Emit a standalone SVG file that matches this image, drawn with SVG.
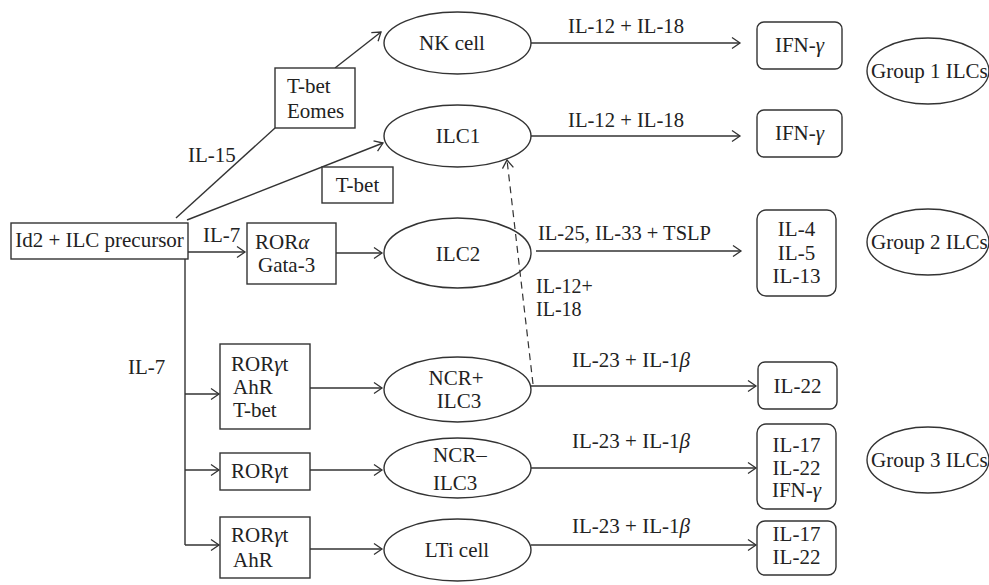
<svg xmlns="http://www.w3.org/2000/svg" width="989" height="585" viewBox="0 0 989 585">
<defs>
<marker id="arr" markerUnits="userSpaceOnUse" markerWidth="12" markerHeight="14" refX="9" refY="6" orient="auto" viewBox="0 0 12 12">
<path d="M1,0.5 L9,6 L1,11.5" fill="none" stroke="#333" stroke-width="1.3"/>
</marker>
</defs>
<style>
text{font-family:"Liberation Serif","Times New Roman",serif;font-size:21px;fill:#222}
.c{text-anchor:middle}
.b{fill:#fff;stroke:#333;stroke-width:1.4}
.e{fill:none;stroke:#333;stroke-width:1.4}
.l{fill:none;stroke:#333;stroke-width:1.4}
.a{fill:none;stroke:#333;stroke-width:1.4;marker-end:url(#arr)}
.d{fill:none;stroke:#333;stroke-width:1.2;stroke-dasharray:7,5;marker-end:url(#arr)}
.s{font-size:20px}
</style>
<rect width="989" height="585" fill="#fff"/>
<g id="connectors">
<line class="l" x1="176" y1="218" x2="275" y2="128"/>
<line class="a" x1="335" y1="68" x2="381" y2="32"/>
<line class="a" x1="187" y1="220" x2="383" y2="143"/>
<line class="a" x1="188" y1="252" x2="245" y2="252"/>
<line class="a" x1="336" y1="253" x2="382" y2="253"/>
<line class="l" x1="185" y1="259" x2="185" y2="545"/>
<line class="a" x1="185" y1="394" x2="219" y2="394"/>
<line class="a" x1="185" y1="470" x2="219" y2="470"/>
<line class="a" x1="185" y1="545" x2="219" y2="545"/>
<line class="a" x1="310" y1="388" x2="382" y2="388"/>
<line class="a" x1="310" y1="470" x2="382" y2="470"/>
<line class="a" x1="310" y1="549" x2="382" y2="549"/>
<line class="a" x1="531" y1="43" x2="740" y2="43"/>
<line class="a" x1="531" y1="136" x2="740" y2="136"/>
<line class="a" x1="536" y1="251" x2="741" y2="251"/>
<line class="a" x1="531" y1="386" x2="756" y2="386"/>
<line class="a" x1="531" y1="468" x2="756" y2="468"/>
<line class="a" x1="531" y1="545" x2="756" y2="545"/>
<line class="d" x1="533" y1="384" x2="507" y2="160"/>
<text x="188" y="162">IL-15</text>
<text x="203" y="242">IL-7</text>
<text x="128" y="374">IL-7</text>
<text class="c" x="626" y="33" textLength="116" lengthAdjust="spacingAndGlyphs">IL-12 + IL-18</text>
<text class="c" x="626" y="127" textLength="116" lengthAdjust="spacingAndGlyphs">IL-12 + IL-18</text>
<text x="538" y="240" textLength="173" lengthAdjust="spacingAndGlyphs">IL-25, IL-33 + TSLP</text>
<text class="s" x="536" y="293">IL-12+</text>
<text class="s" x="536" y="316">IL-18</text>
<text x="572" y="367" textLength="118" lengthAdjust="spacingAndGlyphs">IL-23 + IL-1<tspan font-style="italic">β</tspan></text>
<text x="572" y="448" textLength="118" lengthAdjust="spacingAndGlyphs">IL-23 + IL-1<tspan font-style="italic">β</tspan></text>
<text x="572" y="533" textLength="118" lengthAdjust="spacingAndGlyphs">IL-23 + IL-1<tspan font-style="italic">β</tspan></text>
</g>
<g id="precursor">
<rect class="b" x="11" y="223" width="177" height="36"/>
<text class="c" x="99.5" y="247">Id2 + ILC precursor</text>
</g>
<g id="tbet-eomes">
<rect class="b" x="275" y="68" width="80" height="60"/>
<text x="287" y="93">T-bet</text>
<text x="287" y="118">Eomes</text>
</g>
<g id="tbet">
<rect class="b" x="322" y="167" width="71" height="36"/>
<text class="c" x="357.5" y="192">T-bet</text>
</g>
<g id="rora">
<rect class="b" x="247" y="223" width="89" height="61"/>
<text x="255" y="249">ROR<tspan font-style="italic">α</tspan></text>
<text x="258" y="272">Gata-3</text>
</g>
<g id="rorgt-ahr-tbet">
<rect class="b" x="220" y="344" width="90" height="85"/>
<text x="231" y="371">ROR<tspan font-style="italic">γ</tspan>t</text>
<text x="233" y="394">AhR</text>
<text x="233" y="417">T-bet</text>
</g>
<g id="rorgt">
<rect class="b" x="220" y="453" width="90" height="37"/>
<text x="231" y="478">ROR<tspan font-style="italic">γ</tspan>t</text>
</g>
<g id="rorgt-ahr">
<rect class="b" x="220" y="517" width="90" height="61"/>
<text x="231" y="542">ROR<tspan font-style="italic">γ</tspan>t</text>
<text x="233" y="567">AhR</text>
</g>
<g id="nk">
<ellipse class="e" cx="457.5" cy="43" rx="73.5" ry="31"/>
<text class="c" x="452" y="50">NK cell</text>
</g>
<g id="ilc1">
<ellipse class="e" cx="457.5" cy="136" rx="73.5" ry="31"/>
<text class="c" x="458" y="143">ILC1</text>
</g>
<g id="ilc2">
<ellipse class="e" cx="457.5" cy="253" rx="73.5" ry="35"/>
<text class="c" x="458" y="261">ILC2</text>
</g>
<g id="ncrp">
<ellipse class="e" cx="457.5" cy="389.5" rx="73.5" ry="32.5"/>
<text class="c" x="456" y="385">NCR+</text>
<text class="c" x="459" y="408">ILC3</text>
</g>
<g id="ncrm">
<ellipse class="e" cx="457.5" cy="468" rx="73.5" ry="30"/>
<text x="433" y="462">NCR–</text>
<text x="433" y="490">ILC3</text>
</g>
<g id="lti">
<ellipse class="e" cx="457.5" cy="550" rx="73.5" ry="31"/>
<text class="c" x="457" y="557">LTi cell</text>
</g>
<g id="ifn1">
<rect class="b" x="757" y="22" width="85" height="47" rx="7"/>
<text class="c" x="799.5" y="52">IFN-<tspan font-style="italic">γ</tspan></text>
</g>
<g id="ifn2">
<rect class="b" x="757" y="110" width="85" height="47" rx="7"/>
<text class="c" x="799.5" y="140">IFN-<tspan font-style="italic">γ</tspan></text>
</g>
<g id="il4">
<rect class="b" x="757" y="210" width="79" height="86" rx="9"/>
<text class="c" x="796.5" y="236">IL-4</text>
<text class="c" x="796.5" y="260">IL-5</text>
<text class="c" x="796.5" y="283">IL-13</text>
</g>
<g id="il22">
<rect class="b" x="758" y="362" width="79" height="47" rx="7"/>
<text class="c" x="797.5" y="393">IL-22</text>
</g>
<g id="il17-il22-ifn">
<rect class="b" x="757" y="424" width="79" height="85" rx="9"/>
<text class="c" x="796.5" y="452">IL-17</text>
<text class="c" x="796.5" y="475">IL-22</text>
<text class="c" x="796.5" y="497">IFN-<tspan font-style="italic">γ</tspan></text>
</g>
<g id="il17-il22">
<rect class="b" x="757" y="521" width="79" height="54" rx="8"/>
<text class="c" x="796.5" y="541">IL-17</text>
<text class="c" x="796.5" y="564">IL-22</text>
</g>
<g id="group1">
<ellipse class="e" cx="928" cy="71" rx="61" ry="33"/>
<text x="871" y="78">Group 1 ILCs</text>
</g>
<g id="group2">
<ellipse class="e" cx="928" cy="242" rx="61" ry="33"/>
<text x="871" y="249">Group 2 ILCs</text>
</g>
<g id="group3">
<ellipse class="e" cx="928" cy="460" rx="61" ry="33"/>
<text x="871" y="467">Group 3 ILCs</text>
</g>
</svg>
